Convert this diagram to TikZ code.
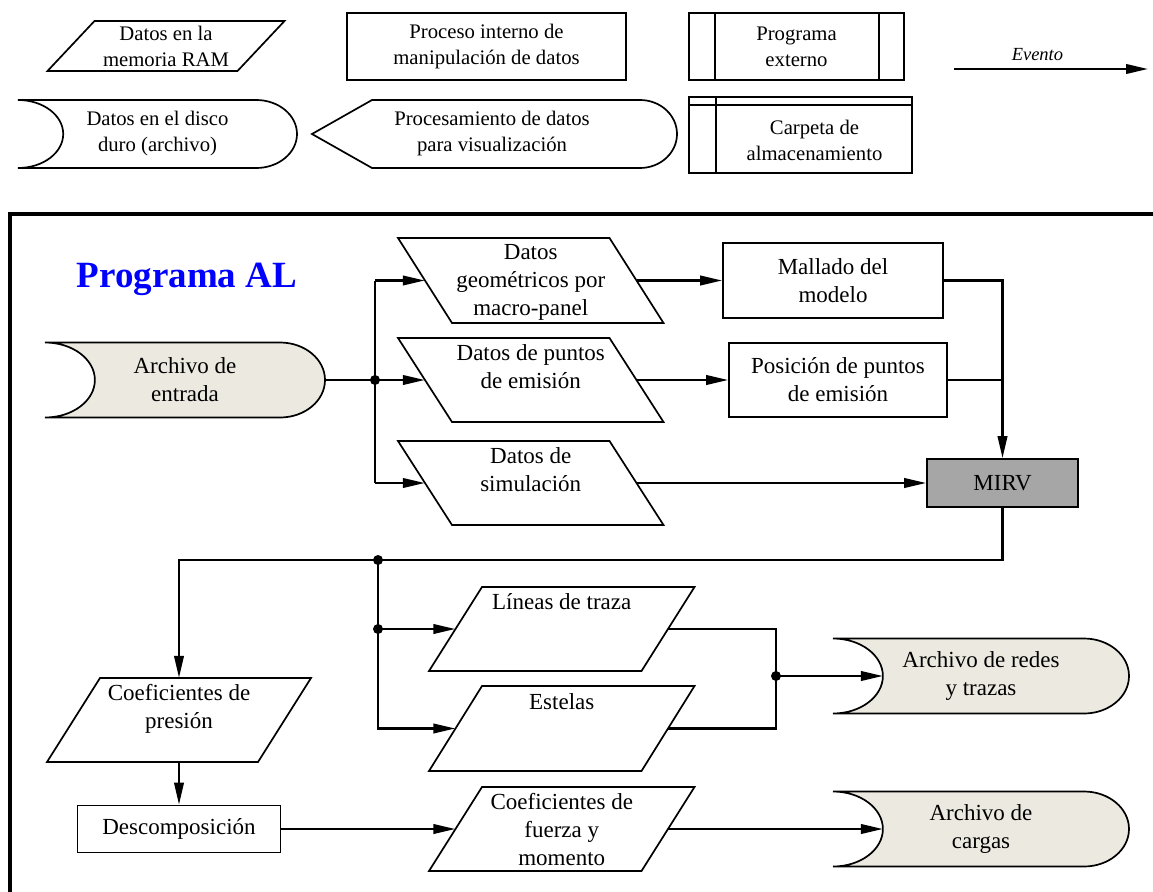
\documentclass[tikz,border=0pt]{standalone}
\usepackage{fontspec}
\setmainfont{Liberation Serif}
\usetikzlibrary{arrows.meta,calc}
\definecolor{beige}{RGB}{236,233,224}
\definecolor{mirvgray}{RGB}{166,166,166}
\newcommand\bstr{\rule[-2.5pt]{0pt}{2.5pt}}
\tikzset{
  shp/.style={draw=black, line width=1.7pt, line join=miter},
  conn/.style={draw=black, line width=2.3pt},
  arr/.style={conn, -{Triangle[length=22pt,width=9.5pt]}},
  txt/.style={font=\fontsize{20.7}{26}\selectfont, align=center, inner sep=0pt, text=black},
  mtxt/.style={font=\fontsize{23}{28}\selectfont, align=center, inner sep=0pt, text=black},
  jdot/.style={circle, fill=black, inner sep=0pt, minimum size=10pt},
}
% parallelogram: name, cx, cy, mid width, height, slant (top shift), text
\newcommand\PG[7]{%
  \draw[shp] ({#2-#4/2+(#6)},{-#3+#5/2}) -- ({#2+#4/2+(#6)},{-#3+#5/2}) --
             ({#2+#4/2-(#6)},{-#3-#5/2}) -- ({#2-#4/2-(#6)},{-#3-#5/2}) -- cycle;
  \node[pgtext, minimum width=#4, minimum height=#5] (#1) at (#2,-#3) {#7};
}
% disk file: name, L, R, T, B, fill, text
\newcommand\DK[7]{%
  \pgfmathsetmacro\dkry{(#5-#4)/2}
  \pgfmathsetmacro\dkrx{1.2*\dkry}
  \pgfmathsetmacro\dkdd{1.33*\dkry}
  \draw[shp, fill=#6] (#2,-#4) -- ({#3-\dkrx},-#4)
     arc[start angle=90, end angle=-90, x radius=\dkrx, y radius=\dkry]
     -- (#2,-#5)
     arc[start angle=-90, end angle=90, x radius=\dkdd, y radius=\dkry] -- cycle;
  \node[pgtext, minimum width={#3-#2}, minimum height={#5-#4}] (#1) at ({(#2+#3)/2},{-(#4+#5)/2}) {#7};
  \coordinate (#1-in) at ({#2+\dkdd},{-(#4+#5)/2});
}
\begin{document}
\begin{tikzpicture}[x=1pt,y=1pt]
\useasboundingbox (0,0) rectangle (1153,-891);

% ---------------- legend ----------------
\tikzset{pgtext/.style={txt}}
\PG{legram}{166}{46}{190}{50}{23.5}{Datos en la\\memoria RAM}
\DK{legdisk}{18}{297}{100}{168}{white}{Datos en el disco\\duro (archivo)}
\node[txt, shp, minimum width=279, minimum height=67] (legproc) at (486.5,-46.5)
  {Proceso interno de\\manipulación de datos};
\draw[shp] (312,-134) -- (372,-100) -- (640,-100)
  arc[start angle=90, end angle=-90, x radius=37, y radius=34] -- (372,-168) -- cycle;
\node[txt] (legdisp) at (492,-134) {Procesamiento de datos\\para visualización};
\node[txt, shp, minimum width=215, minimum height=67] (legprog) at (796.5,-46.5) {Programa\\externo};
\draw[shp] ($(legprog.north west)+(27,0)$) -- ($(legprog.south west)+(27,0)$);
\draw[shp] ($(legprog.north east)+(-26,0)$) -- ($(legprog.south east)+(-26,0)$);
\node[shp, minimum width=223, minimum height=76, inner sep=0pt] (legcarp) at (800.5,-135) {};
\draw[shp] ($(legcarp.north west)+(0,-9)$) -- ($(legcarp.north east)+(0,-9)$);
\draw[shp] ($(legcarp.north west)+(28,0)$) -- ($(legcarp.south west)+(28,0)$);
\node[txt] (legcarpt) at (814.5,-140) {Carpeta de\\almacenamiento};
\coordinate (eva) at (954,-69);
\coordinate (evb) at (1148,-69);
\draw[arr] (eva) -- node[pos=0.43, above=7pt, inner sep=0pt, font=\fontsize{18.5}{22}\selectfont\itshape] (evlab) {Evento} (evb);

% ---------------- frame ----------------
\draw[line width=4pt, line join=miter] (10,-900) -- (10,-214) -- (1160,-214);
\node[font=\fontsize{37}{44}\selectfont\bfseries, text=blue, anchor=base, inner sep=0pt] (title) at (187,-287) {Programa AL};

% ---------------- main shapes ----------------
\tikzset{pgtext/.style={mtxt}}
\DK{ent}{45}{325}{342.5}{417.5}{beige}{Archivo de\\entrada}
\PG{p1}{530.75}{280.5}{211.5}{85}{-27}{\strut Datos\\geométricos por\\macro-panel\bstr}
\PG{p2}{530.75}{380}{211.5}{84}{-27}{\strut Datos de puntos\\de emisión\\\bstr}
\PG{p3}{530.75}{483}{211.5}{84}{-27}{\strut Datos de\\simulación\\\bstr}
\node[mtxt, shp, minimum width=220, minimum height=75] (mall) at (833,-280.5) {Mallado del\\modelo};
\node[mtxt, shp, minimum width=218, minimum height=74] (pos) at (838,-380) {Posición de puntos\\de emisión};
\node[mtxt, shp, fill=mirvgray, minimum width=151, minimum height=48] (mirv) at (1002.5,-483) {MIRV};
\PG{coefp}{179}{720}{211}{84}{26.5}{\strut Coeficientes de\\presión\\\bstr}
\node[mtxt, shp, minimum width=203, minimum height=47] (desc) at (179,-829) {Descomposición};
\PG{lin}{561.75}{629}{212.5}{84}{26.5}{\strut Líneas de traza\\\mbox{}\\\bstr}
\PG{est}{561.75}{728.5}{212.5}{85}{26.5}{\strut Estelas\\\mbox{}\\\bstr}
\PG{coeff}{561.75}{829}{212.5}{84}{26.5}{\strut Coeficientes de\\fuerza y\\momento\bstr}
\DK{redes}{833}{1129}{638.5}{713.5}{beige}{Archivo de redes\\y trazas}
\DK{cargas}{833}{1129}{791.5}{866.5}{beige}{Archivo de\\cargas}

% ---------------- connectors ----------------
\coordinate (j1) at (375,-380);
\draw[conn] (j1 |- p1.west) -- (j1 |- p3.west);
\draw[arr] (j1 |- p1.west) -- (p1.west);
\draw[arr] (ent.east) -- (p2.west);
\draw[arr] (j1 |- p3.west) -- (p3.west);
\draw[arr] (p1.east) -- (mall.west);
\draw[arr] (p2.east) -- (pos.west);
\draw[arr] (p3.east) -- (mirv.west);
\draw[arr] (mall.east) -| (mirv.north);
\draw[conn] (pos.east) -- (pos.east -| mirv.north);
\coordinate (j2) at (378,-560);
\draw[arr] (mirv.south) |- (j2) -| (coefp.north);
\draw[arr] (j2) |- (est.west);
\draw[arr] (j2 |- lin.west) -- (lin.west);
\coordinate (j4) at (776,-676);
\draw[conn] (lin.east) -| (j4) |- (est.east);
\draw[arr] (j4) -- (redes-in);
\draw[arr] (coefp.south) -- (desc.north);
\draw[arr] (desc.east) -- (coeff.west);
\draw[arr] (coeff.east) -- (cargas-in);
\node[jdot] (d1) at (j1) {};
\node[jdot] (d2) at (j2) {};
\node[jdot] (d3) at (j2 |- lin.west) {};
\node[jdot] (d4) at (j4) {};
\end{tikzpicture}
\end{document}
